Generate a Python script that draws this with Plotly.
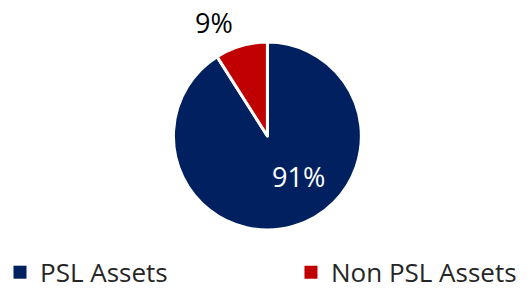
import plotly.graph_objects as go

labels = ["PSL Assets", "Non PSL Assets"]
values = [91, 9]
colors = ["#002060", "#C00000"]
text_colors = ["#FFFFFF", "#000000"]

total = sum(values)
pct = [f"{round(v / total * 100)}%" for v in values]

# label anchor positions (paper coords) for each slice's percentage
label_x = [0.564, 0.404]
label_y = [0.393, 0.924]

fig = go.Figure()
fig.add_trace(go.Pie(
    labels=labels,
    values=values,
    sort=False,
    direction="clockwise",
    rotation=0,
    marker=dict(colors=colors, line=dict(color="#FFFFFF", width=3)),
    textinfo="none",
    domain=dict(x=[0.326, 0.683], y=[0.207, 0.855]),
    hoverinfo="skip",
    showlegend=False,
))

# legend entries (one legend per entry so they can be spaced like the reference)
for i, (lab, col) in enumerate(zip(labels, colors)):
    fig.add_trace(go.Scatter(
        x=[None], y=[None], mode="markers", name=lab,
        marker=dict(symbol="square", size=13, color=col),
        showlegend=True, legend="legend" if i == 0 else "legend2",
        hoverinfo="skip",
    ))

for txt, col, lx, ly in zip(pct, text_colors, label_x, label_y):
    fig.add_annotation(
        text=txt, x=lx, y=ly, xref="paper", yref="paper",
        showarrow=False, xanchor="center", yanchor="middle",
        font=dict(family="Open Sans", size=27, color=col),
    )

legend_common = dict(
    orientation="h",
    xanchor="left",
    y=-0.020, yanchor="bottom",
    bgcolor="rgba(0,0,0,0)",
    font=dict(family="Open Sans", size=26, color="#262626"),
    itemsizing="trace",
)

fig.update_layout(
    width=530, height=290,
    margin=dict(l=0, r=0, t=0, b=0, autoexpand=False),
    paper_bgcolor="#FFFFFF",
    plot_bgcolor="#FFFFFF",
    xaxis=dict(visible=False),
    yaxis=dict(visible=False),
    showlegend=True,
    legend=dict(x=0.0, **legend_common),
    legend2=dict(x=0.549, **legend_common),
)

fig.write_html("out.html", config={"displayModeBar": False},
               post_script="document.body.style.margin='0';")
